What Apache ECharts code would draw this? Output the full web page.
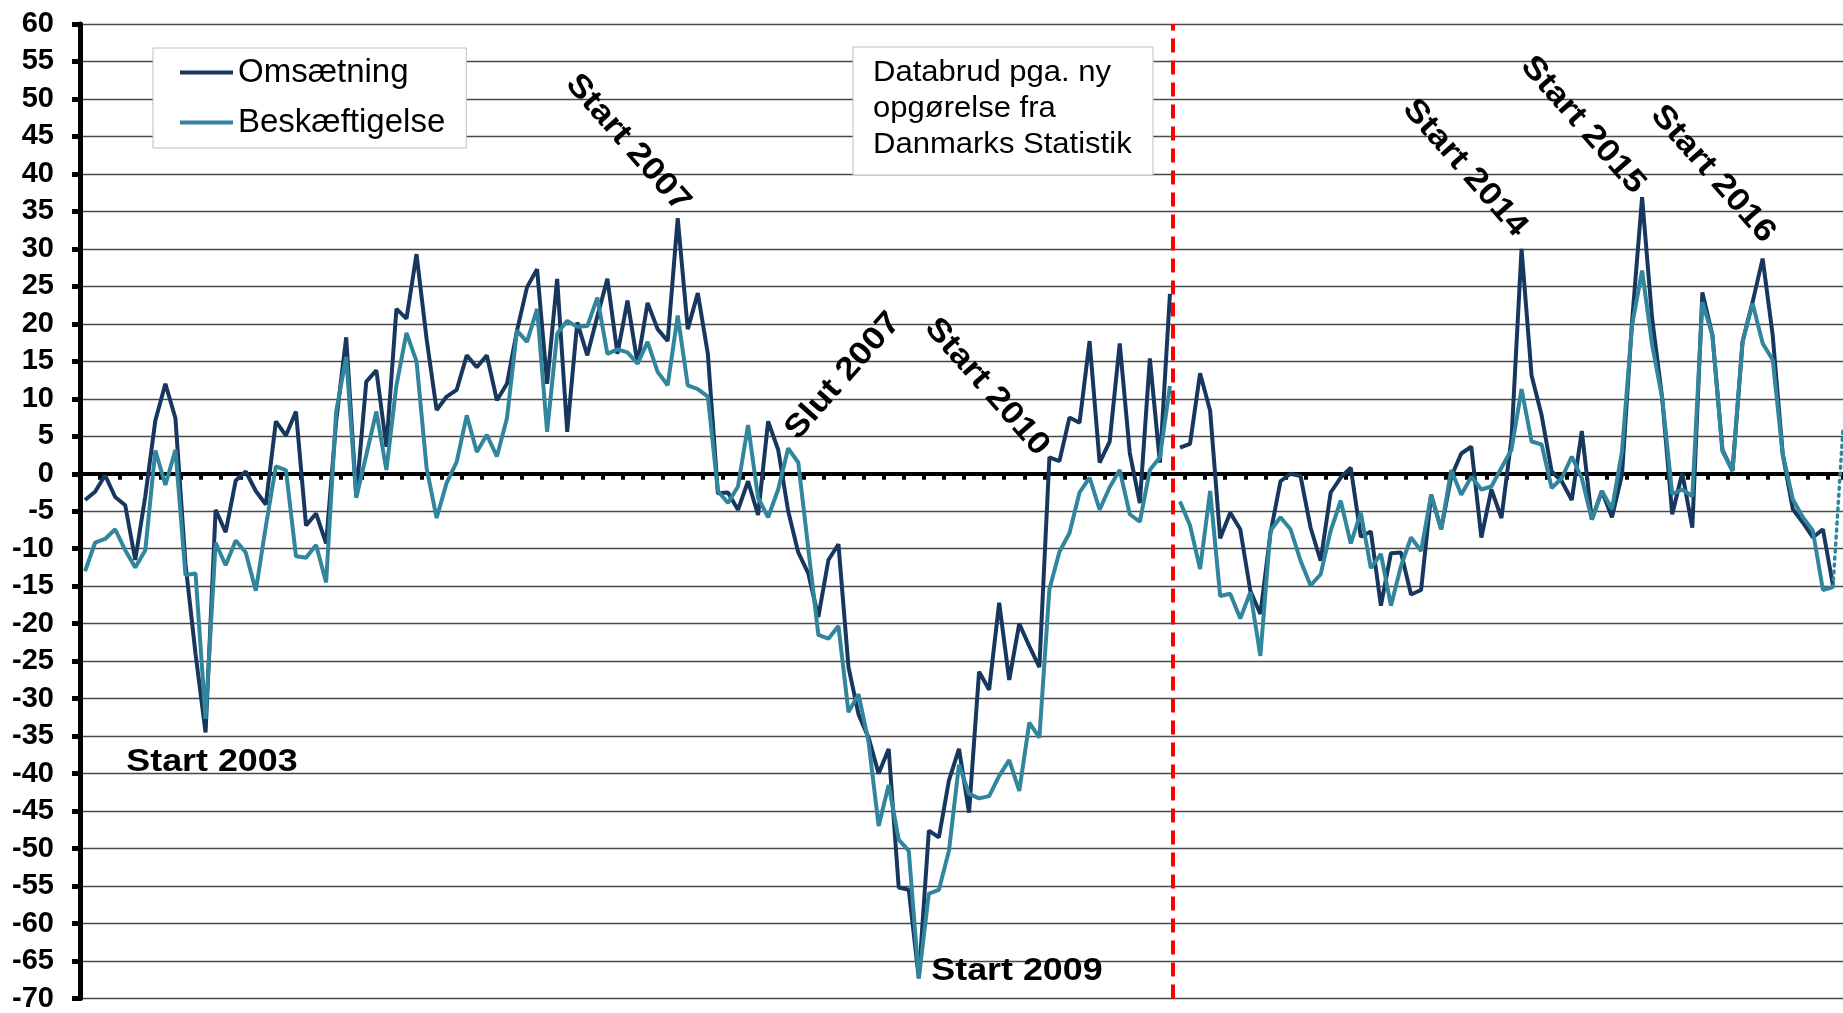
<!DOCTYPE html>
<html><head><meta charset="utf-8">
<script src="https://cdn.jsdelivr.net/npm/echarts@6/dist/echarts.min.js"></script>
<style>html,body{margin:0;padding:0;background:#fff;} #chart{width:1843px;height:1013px;}</style>
</head><body><div id="chart"></div>
<script>
// Monthly index 0 = Feb 2002 ... 174 = Aug 2016
const omsFoer = [
  -3.5, -2.4, -0.2, -3.1, -4.2, -11.5, -3, 7.1, 12, 7.4,
  -12, -24, -34.5, -4.8, -7.8, -0.9, 0.3, -2.3, -4.1, 7,
  5.1, 8.3, -6.9, -5.3, -9.3, 7, 18.2, -3, 12.3, 13.8,
  3.6, 22, 20.7, 29.3, 18, 8.5, 10.3, 11.2, 15.8, 14.2,
  15.8, 9.8, 12, 19.1, 24.9, 27.3, 12, 26, 5.6, 20.2,
  15.8, 21, 26, 16, 23.1, 14.7, 22.8, 19.3, 17.7, 34.1,
  19.3, 24.1, 16, -2.6, -2.5, -4.8, -1, -5.5, 7, 3.2,
  -5, -10.5, -13.3, -19.1, -11.5, -9.4, -25.8, -32.1, -35.2, -40,
  -36.7, -55.2, -55.5, -67.3, -47.6, -48.5, -40.9, -36.7, -45.2, -26.4,
  -28.8, -17.2, -27.5, -20, -23, -25.8, 2.2, 1.7, 7.5, 6.8,
  17.7, 1.5, 4.3, 17.4, 2.8, -3.9, 15.4, 1.5, 24
];
const omsEfter = [
  3.5, 4, 13.4, 8.4, -8.6, -5.2, -7.4, -15.6, -18.7, -8,
  -1, 0, -0.3, -7.2, -11.6, -2.5, -0.5, 0.8, -8.4, -7.7,
  -17.6, -10.6, -10.5, -16.1, -15.5, -2.8, -7.4, -0.4, 2.7, 3.6,
  -8.5, -2.1, -5.9, 4.7, 30, 13.1, 7.8, 0.3, -1, -3.5,
  5.7, -6.1, -2.3, -5.8, -0.1, 20.3, 36.9, 20.7, 10.1, -5.4,
  0.1, -7.2, 24.2, 18.5, 3.2, 0.4, 17.6, 22.9, 28.7, 18.5,
  2.6, -4.7, -6.5, -8.5, -7.4, -14.9
];
const beskFoer = [
  -13, -9.2, -8.7, -7.4, -10.2, -12.5, -10.2, 3.1, -1.5, 3.2,
  -13.5, -13.3, -32.7, -9.2, -12.2, -8.9, -10.5, -15.6, -7, 1,
  0.5, -11, -11.2, -9.5, -14.5, 8.3, 15.6, -3.2, 2.5, 8.3,
  0.5, 11.8, 18.8, 15, 0.8, -5.9, -1.2, 1.6, 7.8, 2.9,
  5.2, 2.3, 7.4, 19.1, 17.6, 22, 5.6, 18.7, 20.4, 19.6,
  19.7, 23.5, 16, 16.6, 16.2, 14.7, 17.6, 13.6, 11.8, 21.1,
  11.8, 11.3, 10.3, -2.3, -3.9, -1.7, 6.5, -3.2, -5.8, -2.1,
  3.4, 1.5, -10, -21.5, -22, -20.3, -31.8, -29.4, -35.8, -47,
  -41.5, -48.8, -50.3, -67.3, -56, -55.5, -50.3, -38.8, -42.7, -43.3,
  -43, -40.3, -38.2, -42.3, -33.2, -35.2, -15.4, -10.4, -7.9, -2.5,
  -0.5, -4.8, -1.8, 0.5, -5.4, -6.4, 0.5, 2.2, 11.7
];
const beskEfter = [
  -3.7, -6.9, -12.7, -2.3, -16.3, -16, -19.3, -15.8, -24.3, -7.6,
  -5.8, -7.4, -11.6, -14.9, -13.4, -7.6, -3.6, -9.3, -5.2, -12.6,
  -10.7, -17.6, -12.3, -8.5, -10.3, -2.8, -7.4, 0.5, -2.8, -0.4,
  -2.1, -1.7, 0.8, 3.2, 11.3, 4.3, 3.9, -1.9, -0.6, 2.3,
  -0.6, -6.1, -2.3, -4.7, 3, 19.8, 27.1, 17.2, 10.1, -2.7,
  -2.1, -3, 22.9, 18.5, 3, 0.4, 17.6, 22.7, 17.4, 15.2,
  2.6, -3.4, -5.8, -7.6, -15.5, -15.1
];
const beskFremskrevet = [-15.1, 6];   // dotted continuation
const efterStart = 109;                // first month of new data
const fremStart = 174;
const databrudPos = 108.3;             // data break (red dashed line)
const seriesNames = ['Omsætning', 'Beskæftigelse'];
const annotations = [
  { text: 'Start 2003', x: 212, y: 762, rot: 0 },
  { text: 'Start 2009', x: 1017, y: 971, rot: 0 },
  { text: 'Start 2007', x: 628, y: 143, rot: -0.85 },
  { text: 'Slut 2007', x: 843, y: 376, rot: 0.85 },
  { text: 'Start 2010', x: 987, y: 387, rot: -0.85 },
  { text: 'Start 2014', x: 1465, y: 168, rot: -0.85 },
  { text: 'Start 2015', x: 1583, y: 125, rot: -0.85 },
  { text: 'Start 2016', x: 1713, y: 174, rot: -0.85 }
];
const noteText = 'Databrud pga. ny\nopgørelse fra\nDanmarks Statistik';

const DARK = '#17375E', TEAL = '#31859C';
const FONT = '"Liberation Sans", Arial, sans-serif';
const toPairs = (arr, start) => arr.map((v, i) => [start + i, v]);
const lineBase = (name, color) => ({
  name, type: 'line', symbol: 'none', showSymbol: false,
  lineStyle: { color, width: 4 }, itemStyle: { color }, emphasis: { disabled: true }
});

const chart = echarts.init(document.getElementById('chart'), null, { renderer: 'canvas' });
chart.setOption({
  animation: false,
  backgroundColor: '#fff',
  grid: { left: 80, right: 0, top: 24, bottom: 11 },
  xAxis: {
    type: 'value', min: -0.5, max: 175, interval: 2,
    axisLine: { onZero: true, lineStyle: { color: '#000', width: 4 } },
    axisTick: { show: true, length: 6, lineStyle: { color: '#000', width: 4 } },
    axisLabel: { show: false }, splitLine: { show: false }
  },
  yAxis: {
    type: 'value', min: -70, max: 60, interval: 5,
    axisLine: { show: true, onZero: false, lineStyle: { color: '#000', width: 5 } },
    axisTick: { show: true, length: 8, lineStyle: { color: '#000', width: 5 } },
    axisLabel: { margin: 26, fontSize: 29, fontWeight: 'bold', color: '#000', fontFamily: FONT },
    splitLine: { lineStyle: { color: '#4a4a4a', width: 1.4 } }
  },
  legend: {
    data: seriesNames, orient: 'vertical', left: 153, top: 48,
    padding: [8, 21, 9, 27], itemGap: 17, itemWidth: 53, itemHeight: 4, icon: 'rect',
    backgroundColor: '#fff', borderColor: '#BFBFBF', borderWidth: 1,
    textStyle: { fontSize: 33, fontFamily: FONT, color: '#000' }
  },
  series: [
    Object.assign(lineBase(seriesNames[0], DARK), {
      data: toPairs(omsFoer, 0), z: 3,
      markLine: {
        silent: true, symbol: 'none', label: { show: false },
        lineStyle: { color: '#FF0000', width: 4, type: [14, 8] },
        data: [{ xAxis: databrudPos }]
      }
    }),
    Object.assign(lineBase(seriesNames[0], DARK), { data: toPairs(omsEfter, efterStart), z: 3 }),
    Object.assign(lineBase(seriesNames[1], TEAL), { data: toPairs(beskFoer, 0), z: 4 }),
    Object.assign(lineBase(seriesNames[1], TEAL), { data: toPairs(beskEfter, efterStart), z: 4 }),
    Object.assign(lineBase(seriesNames[1], TEAL), {
      data: toPairs(beskFremskrevet, fremStart), z: 4,
      lineStyle: { color: TEAL, width: 3.5, type: [2, 5], cap: 'round' }
    })
  ],
  graphic: [
    { type: 'rect', z: 50, shape: { x: 853, y: 47, width: 300, height: 128 },
      style: { fill: '#fff', stroke: '#BFBFBF', lineWidth: 1 } },
    { type: 'text', z: 51, x: 873, y: 55, scaleX: 1.07,
      style: { text: noteText, fontSize: 29, fontFamily: FONT, fill: '#000', lineHeight: 36 } }
  ].concat(annotations.map(a => ({
    type: 'text', z: 60, x: a.x, y: a.y, rotation: a.rot, scaleX: 1.12,
    style: { text: a.text, fontSize: 32, fontWeight: 'bold', fontFamily: FONT, fill: '#000',
             align: 'center', verticalAlign: 'middle' }
  })))
});
</script></body></html>
